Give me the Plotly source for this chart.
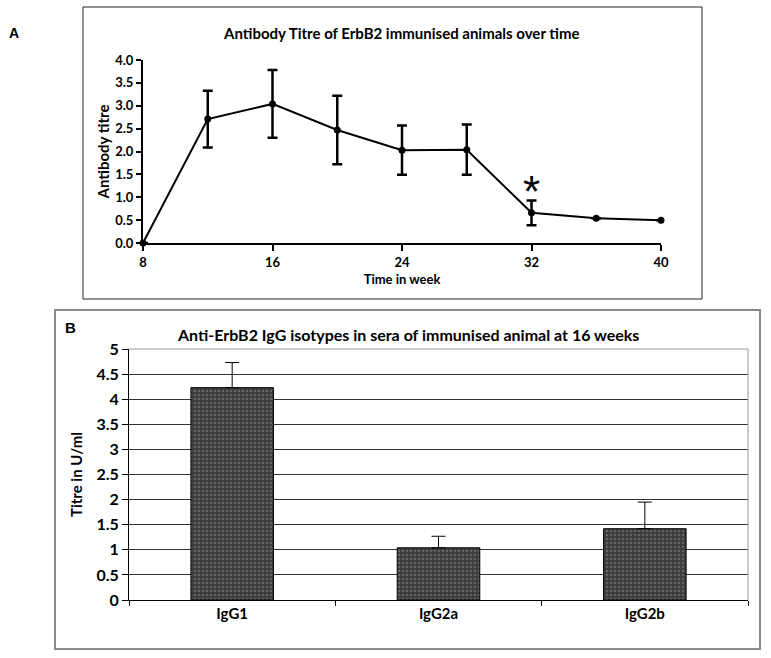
import plotly.graph_objects as go

W, H = 771, 658

# Panel A data
weeks = [8, 12, 16, 20, 24, 28, 32, 36, 40]
titre = [0.0, 2.71, 3.04, 2.47, 2.03, 2.04, 0.66, 0.54, 0.50]
titre_err = [0, 0.62, 0.74, 0.75, 0.54, 0.55, 0.27, 0, 0]
a_xticks = [8, 16, 24, 32, 40]
a_yticks = [0.0, 0.5, 1.0, 1.5, 2.0, 2.5, 3.0, 3.5, 4.0]

# Panel B data
isotypes = ["IgG1", "IgG2a", "IgG2b"]
iso_titre = [4.23, 1.04, 1.42]
iso_err = [0.50, 0.23, 0.53]
b_yticks = [0, 0.5, 1, 1.5, 2, 2.5, 3, 3.5, 4, 4.5, 5]
b_yticklabels = ["0", "0.5", "1", "1.5", "2", "2.5", "3", "3.5", "4", "4.5", "5"]


def px(x):
    return x / W


def py(y):
    return 1 - y / H


FA = "Lato, 'Open Sans', sans-serif"

fig = go.Figure()

fig.add_trace(go.Scatter(
    x=weeks, y=titre, mode="lines+markers",
    line=dict(color="black", width=2),
    marker=dict(color="black", size=7),
    error_y=dict(type="data", array=titre_err, visible=True,
                 color="black", thickness=2.5, width=5),
    cliponaxis=False, xaxis="x", yaxis="y", showlegend=False,
))

fig.add_trace(go.Bar(
    x=isotypes, y=iso_titre, width=0.4,
    marker=dict(color="#3c3c3c", line=dict(color="black", width=1),
                pattern=dict(shape=".", fgcolor="#8a8a8a", size=4, solidity=0.35)),
    error_y=dict(type="data", array=iso_err, arrayminus=[0, 0, 0], symmetric=False,
                 visible=True, color="black", thickness=1, width=7),
    xaxis="x2", yaxis="y2", showlegend=False,
))

fig.update_layout(
    width=W, height=H,
    margin=dict(l=0, r=0, t=0, b=0, autoexpand=False),
    paper_bgcolor="white", plot_bgcolor="white",
    font=dict(family=FA, color="black"),
    xaxis=dict(domain=[px(143), px(661)], range=[8, 40], tickvals=a_xticks,
               automargin=False,
               ticks="outside", ticklen=6, tickwidth=2, tickcolor="black",
               showline=True, linewidth=2, linecolor="black", showgrid=False,
               zeroline=False, anchor="y",
               tickfont=dict(size=13, family=FA, weight="bold"),
               title=dict(text="Time in week", standoff=6,
                          font=dict(size=13, family=FA, weight="bold"))),
    yaxis=dict(domain=[py(243), py(60)], range=[0, 4], tickvals=a_yticks,
               automargin=False,
               tickformat=".1f", ticks="outside", ticklen=5, tickwidth=2,
               tickcolor="black", showline=True, linewidth=2, linecolor="black",
               showgrid=False, zeroline=False, anchor="x",
               tickfont=dict(size=13, family=FA, weight="bold"),
               title=dict(text="Antibody titre", standoff=2,
                          font=dict(size=15, family=FA, weight="bold"))),
    xaxis2=dict(domain=[px(129), px(748)], range=[-0.5, 2.5], type="category",
                automargin=False,
                tickson="boundaries", ticks="outside", ticklen=5, tickwidth=1,
                tickcolor="black", showline=True, linewidth=1, linecolor="black",
                showgrid=False, zeroline=False, anchor="y2",
                tickfont=dict(size=15, family=FA, weight="bold")),
    yaxis2=dict(domain=[py(600), py(349)], range=[0, 5], tickvals=b_yticks,
                automargin=False,
                ticktext=b_yticklabels, ticks="outside", ticklen=6, tickwidth=1,
                tickcolor="black", showline=True, linewidth=1, linecolor="black",
                showgrid=True, gridcolor="#333", gridwidth=1, zeroline=False,
                anchor="x2", tickfont=dict(size=16, family=FA, weight="bold"),
                title=dict(text="Titre in U/ml", standoff=10,
                           font=dict(size=15, family=FA, weight="bold"))),
    shapes=[
        dict(type="rect", xref="paper", yref="paper",
             x0=px(83), x1=px(702), y0=py(299), y1=py(7),
             line=dict(color="#222", width=1)),
        dict(type="rect", xref="paper", yref="paper",
             x0=px(55), x1=px(760), y0=py(649), y1=py(310),
             line=dict(color="#8a8a8a", width=2)),
        dict(type="line", xref="x2 domain", yref="y2 domain",
             x0=1, x1=1, y0=0, y1=1, line=dict(color="#999", width=1)),
        dict(type="line", xref="x2 domain", yref="y2 domain",
             x0=0, x1=1, y0=1, y1=1, line=dict(color="#999", width=1)),
    ],
    annotations=[
        dict(text="Antibody Titre of ErbB2 immunised animals over time",
             xref="paper", yref="paper", x=px(401), y=py(33), showarrow=False,
             xanchor="center", yanchor="middle",
             font=dict(size=15, family=FA, weight="bold")),
        dict(text="Anti-ErbB2 IgG isotypes in sera of immunised animal at 16 weeks",
             xref="paper", yref="paper", x=px(408), y=py(334), showarrow=False,
             xanchor="center", yanchor="middle",
             font=dict(size=16, family=FA, weight="bold")),
        dict(text="A", xref="paper", yref="paper", x=px(14), y=py(33),
             showarrow=False, xanchor="center", yanchor="middle",
             font=dict(size=14, family="Liberation Sans, Arial", weight="bold")),
        dict(text="B", xref="paper", yref="paper", x=px(70), y=py(327),
             showarrow=False, xanchor="center", yanchor="middle",
             font=dict(size=15, family="Liberation Sans, Arial", weight="bold")),
        dict(text="*", xref="x", yref="y", x=weeks[6], y=titre[6] + titre_err[6],
             showarrow=False, xanchor="center", yanchor="bottom", yshift=-18,
             font=dict(size=44, family="Liberation Sans, Arial", color="black")),
    ],
)

fig.write_html("out.html", config={"displayModeBar": False},
               post_script="document.body.style.margin='0';document.body.style.overflow='hidden';")
